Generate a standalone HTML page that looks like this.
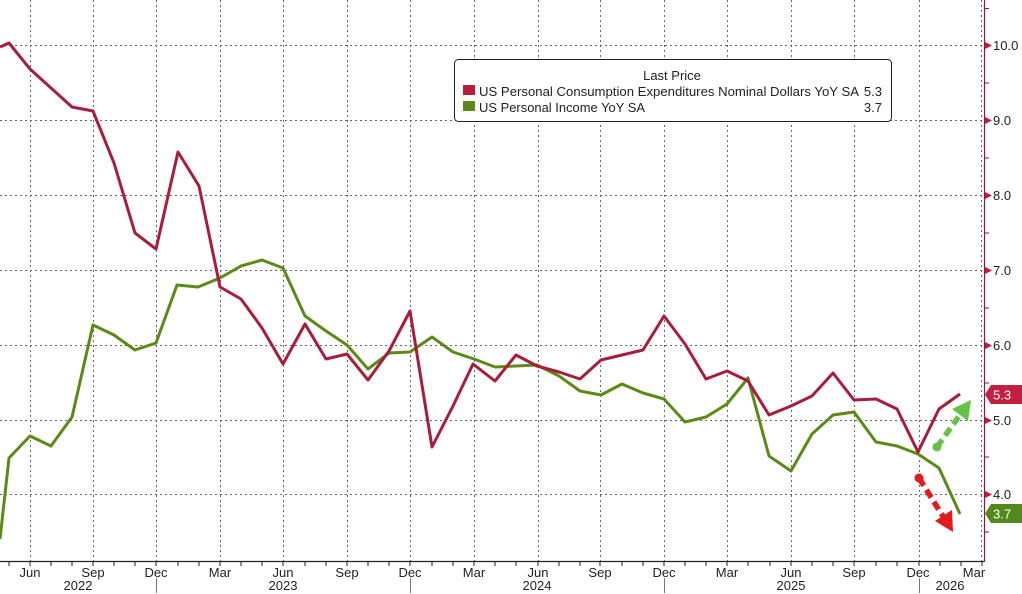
<!DOCTYPE html>
<html><head><meta charset="utf-8"><style>
html,body{margin:0;padding:0;background:#fff;width:1022px;height:594px;overflow:hidden;}
svg{display:block;font-family:"Liberation Sans",sans-serif;overflow:hidden;}
</style></head><body>
<svg width="1022" height="594" viewBox="0 0 1022 594" xmlns="http://www.w3.org/2000/svg">
<rect width="1022" height="594" fill="#fff"/>
<path stroke="#666" stroke-width="1" stroke-dasharray="2 3" fill="none" d="M0 45.5H984M0 120.5H984M0 195.5H984M0 270.5H984M0 345.5H984M0 420.5H984M0 494.5H984M30.5 0V561M93.5 0V561M156.5 0V561M220.5 0V561M283.5 0V561M347.5 0V561M410.5 0V561M474.5 0V561M538.5 0V561M600.5 0V561M664.5 0V561M727.5 0V561M791.5 0V561M854.5 0V561M919.5 0V561M981.5 0V561"/>
<rect x="454.5" y="59.5" width="437" height="62" rx="4" fill="#fff" stroke="#222" stroke-width="1"/>
<text x="672" y="80" font-size="13" text-anchor="middle" fill="#222">Last Price</text>
<rect x="463" y="85" width="12" height="10" fill="#b81d3d"/>
<rect x="463" y="101" width="12" height="10" fill="#5a8a1a"/>
<text x="479" y="96" font-size="13" fill="#222" textLength="380" lengthAdjust="spacingAndGlyphs">US Personal Consumption Expenditures Nominal Dollars YoY SA</text>
<text x="882" y="96" font-size="13" fill="#222" text-anchor="end">5.3</text>
<text x="479" y="112" font-size="13" fill="#222" textLength="166" lengthAdjust="spacingAndGlyphs">US Personal Income YoY SA</text>
<text x="882" y="112" font-size="13" fill="#222" text-anchor="end">3.7</text>
<g fill="none" stroke-width="3" stroke-linejoin="round">
<polyline stroke="#5c8a18" points="0,539 9,458 30,436 51,446 72,417 93,325 114,335 135,350 156,343 177,285 198,287 220,278 241,266 262,260 283,268 305,316 326,331 347,345 368,369 389,353 410,352 432,337 453,352 474,359 495,367 516,366 537,365 559,376 580,391 601,395 622,384 643,393 664,399 685,422 706,417 727,404 748,378 769,456 791,471 812,434 833,415 854,412 876,442 897,446 918,454 939,468 960,514"/>
<polyline stroke="#a81c3c" points="0,47 9,43 30,69 51,88 72,107 93,111 114,163 135,233 156,249 178,152 199,186 220,287 241,299 262,328 283,364 305,324 326,359 347,354 368,380 389,351 410,311 432,447 453,406 473,364 495,381 516,355 537,366 559,372 580,379 601,360 622,355 643,350 664,316 685,344 706,379 727,371 748,381 769,415 791,406 812,396 833,373 854,400 876,399 897,409 918,452 939,409 960,394"/>
</g>
<line x1="937" y1="447" x2="962" y2="412" stroke="#66c244" stroke-width="5.5" stroke-dasharray="9 5"/>
<circle cx="937" cy="447" r="4.5" fill="#66c244"/>
<polygon points="971,400 952,409 968,421" fill="#66c244"/>
<line x1="919" y1="478" x2="944" y2="518" stroke="#e3191c" stroke-width="5.5" stroke-dasharray="9 5"/>
<circle cx="919" cy="478" r="4.5" fill="#e3191c"/>
<polygon points="953,532 935,521 952,510" fill="#e3191c"/>
<line x1="0" y1="561.5" x2="984" y2="561.5" stroke="#222" stroke-width="1.2"/>
<path stroke="#222" stroke-width="1" fill="none" d="M9 561v5M30 561v5M51 561v5M72 561v5M93 561v5M114 561v5M135 561v5M156 561v5M178 561v5M199 561v5M220 561v5M241 561v5M262 561v5M283 561v5M305 561v5M326 561v5M347 561v5M368 561v5M389 561v5M410 561v5M432 561v5M453 561v5M474 561v5M495 561v5M516 561v5M538 561v5M559 561v5M580 561v5M600 561v5M622 561v5M643 561v5M664 561v5M685 561v5M706 561v5M727 561v5M748 561v5M770 561v5M791 561v5M812 561v5M833 561v5M854 561v5M876 561v5M897 561v5M919 561v5M940 561v5M961 561v5M982 561v5"/>
<path stroke="#777" stroke-width="1" fill="none" d="M156.5 578V593M410.5 578V593M664.5 578V593M919.5 578V593"/>
<g font-size="13" fill="#222" text-anchor="middle">
<text x="30" y="577">Jun</text>
<text x="93" y="577">Sep</text>
<text x="156" y="577">Dec</text>
<text x="220" y="577">Mar</text>
<text x="283" y="577">Jun</text>
<text x="347" y="577">Sep</text>
<text x="410" y="577">Dec</text>
<text x="474" y="577">Mar</text>
<text x="538" y="577">Jun</text>
<text x="600" y="577">Sep</text>
<text x="664" y="577">Dec</text>
<text x="727" y="577">Mar</text>
<text x="791" y="577">Jun</text>
<text x="854" y="577">Sep</text>
<text x="918" y="577">Dec</text>
<text x="974" y="577">Mar</text>
<text x="78" y="590">2022</text>
<text x="283" y="590">2023</text>
<text x="537" y="590">2024</text>
<text x="791" y="590">2025</text>
<text x="950" y="590">2026</text>
</g>
<line x1="984.5" y1="0" x2="984.5" y2="562" stroke="#8b1a3a" stroke-width="1.2"/>
<path fill="#c0183c" d="M985 42L992 45.5L985 49ZM985 117L992 120.5L985 124ZM985 192L992 195.5L985 199ZM985 267L992 270.5L985 274ZM985 342L992 345.5L985 349ZM985 417L992 420.5L985 424ZM985 491L992 494.5L985 498Z"/>
<path stroke="#8b1a3a" stroke-width="1" fill="none" d="M985 8.5h4M985 83h4M985 158h4M985 233h4M985 308h4M985 383h4M985 457h4M985 532h4"/>
<g font-size="13" fill="#222">
<text x="993" y="50">10.0</text>
<text x="993" y="125">9.0</text>
<text x="993" y="200">8.0</text>
<text x="993" y="275">7.0</text>
<text x="993" y="350">6.0</text>
<text x="993" y="425">5.0</text>
<text x="993" y="499">4.0</text>
</g>
<polygon points="985,394.5 991,385 1022,385 1022,404 991,404" fill="#c41e40"/>
<text x="993" y="399.5" font-size="13" fill="#fff">5.3</text>
<polygon points="985,513.5 991,504 1022,504 1022,523 991,523" fill="#53891a"/>
<text x="993" y="518.5" font-size="13" fill="#fff">3.7</text>
</svg>
</body></html>
